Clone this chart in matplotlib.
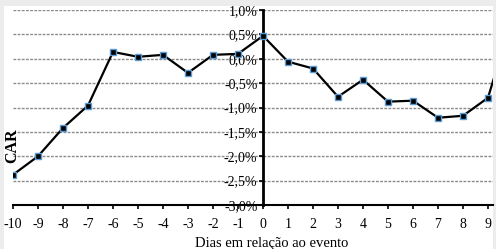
import matplotlib.pyplot as plt
from matplotlib.patches import Rectangle

# data
days = [-10, -9, -8, -7, -6, -5, -4, -3, -2, -1, 0, 1, 2, 3, 4, 5, 6, 7, 8, 9, 10]
car = [-2.38, -2.00, -1.42, -0.96, 0.14, 0.04, 0.08, -0.29, 0.08, 0.10, 0.47,
       -0.06, -0.20, -0.78, -0.43, -0.88, -0.86, -1.21, -1.17, -0.80, 0.90]
y_ticks = [-3.0, -2.5, -2.0, -1.5, -1.0, -0.5, 0.0, 0.5, 1.0]
y_labels = ["-3,0%", "-2,5%", "-2,0%", "-1,5%", "-1,0%", "-0,5%", "0,0%", "0,5%", "1,0%"]
x_ticks = list(range(-10, 10))

W, H = 496, 249
plt.rcParams["font.family"] = ["Liberation Serif", "DejaVu Serif"]

fig = plt.figure(figsize=(W / 100, H / 100), dpi=100, facecolor="white")

# light grey frame strips around the white chart area
frame = "#ececec"
for x0, y0, w, h in [(0, 0, 4, H), (0, H - 6, W, 6), (493, 0, 3, H)]:
    fig.patches.append(Rectangle((x0 / W, y0 / H), w / W, h / H, transform=fig.transFigure,
                                 facecolor=frame, edgecolor="none", zorder=0))

ax = fig.add_axes([13 / W, 44 / H, 480 / W, 195 / H], zorder=1)
ax.set_facecolor("none")

ax.plot(days, car, color="black", linewidth=1.6, marker="s", markersize=5,
        markerfacecolor="black", markeredgecolor="#5b9bd5", markeredgewidth=1, zorder=3)

ax.set_xlim(-10, 9.2)
ax.set_ylim(-3.0, 1.0)
ax.set_yticks(y_ticks)
ax.set_yticklabels(y_labels, fontsize=10.5, color="#222222")
ax.set_xticks(x_ticks)
ax.set_xticklabels([str(t) for t in x_ticks], fontsize=10)

for y in y_ticks[1:]:
    ax.axhline(y, color="#8a8a8a", linewidth=1.0, linestyle=(0, (2, 1)), zorder=1)

ax.spines["left"].set_position(("data", 0))
ax.spines["left"].set_linewidth(2)
ax.spines["bottom"].set_linewidth(1.5)
ax.spines["top"].set_visible(False)
ax.spines["right"].set_visible(False)
ax.tick_params(axis="y", direction="out", length=3, width=1.2, pad=1)
ax.tick_params(axis="x", direction="out", length=3, width=1.2, pad=6)

fig.text(12 / W, 1 - 146 / H, "CAR", rotation=90, fontsize=11.5, fontweight="bold",
         ha="center", va="center")
fig.text(272 / W, 1 - 243 / H, "Dias em relação ao evento", fontsize=10.5,
         ha="center", va="center")

fig.savefig("out.png", dpi=100, facecolor=fig.get_facecolor())
